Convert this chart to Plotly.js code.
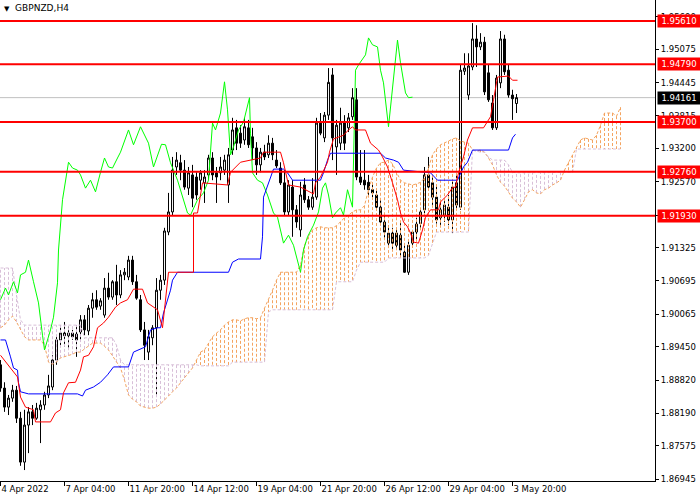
<!DOCTYPE html>
<html>
<head>
<meta charset="utf-8">
<script src="https://cdn.plot.ly/plotly-3.0.1.min.js"></script>
<style>
  html, body { margin: 0; padding: 0; background: #fff; }
  #chart { width: 700px; height: 500px; }
</style>
</head>
<body>
<div id="chart"></div>
<script>
// GBPNZD H4 with Ichimoku, MT4 style. Bars are indexed 0..129, cloud runs 26 bars ahead.

const FONT = 'DejaVu Sans';

// candles, one value per bar
const opens = [
  1.8911,1.8867,1.8831,1.8848,1.8863,1.8810,1.8727,1.8797,1.8822,1.8810,
  1.8826,1.8835,1.8854,1.8869,1.8920,1.8958,1.8971,1.8966,1.8971,1.8969,
  1.8973,1.8996,1.8975,1.9018,1.9034,1.9022,1.9005,1.9056,1.9039,1.9068,
  1.9043,1.9081,1.9077,1.9109,1.9068,1.9034,1.8977,1.8935,1.8962,1.8981,
  1.9052,1.9071,1.9162,1.9200,1.9285,1.9293,1.9279,1.9245,1.9270,1.9266,
  1.9260,1.9255,1.9270,1.9302,1.9274,1.9274,1.9279,1.9251,1.9317,1.9359,
  1.9349,1.9336,1.9359,1.9342,1.9321,1.9289,1.9313,1.9308,1.9330,1.9298,
  1.9283,1.9255,1.9200,1.9247,1.9204,1.9166,1.9251,1.9223,1.9209,1.9228,
  1.9368,1.9340,1.9383,1.9459,1.9323,1.9330,1.9371,1.9359,1.9380,1.9412,
  1.9266,1.9260,1.9256,1.9242,1.9232,1.9209,1.9181,1.9141,1.9160,1.9160,
  1.9156,1.9124,1.9086,1.9141,1.9162,1.9178,1.9204,1.9270,1.9255,1.9228,
  1.9189,1.9194,1.9209,1.9185,1.9255,1.9209,1.9466,1.9421,1.9474,1.9527,
  1.9512,1.9521,1.9463,1.9406,1.9359,1.9444,1.9527,1.9468,1.9421,1.9405
];
const highs = [
  1.8920,1.8878,1.8854,1.8873,1.8871,1.8822,1.8826,1.8831,1.8835,1.8839,
  1.8844,1.8860,1.8892,1.8929,1.8967,1.8986,1.8992,1.8983,1.8977,1.8986,
  1.9005,1.9005,1.9024,1.9047,1.9052,1.9037,1.9075,1.9085,1.9071,1.9100,
  1.9090,1.9094,1.9117,1.9117,1.9081,1.9043,1.8992,1.8977,1.8986,1.9075,
  1.9081,1.9170,1.9236,1.9304,1.9313,1.9308,1.9298,1.9285,1.9289,1.9275,
  1.9279,1.9279,1.9308,1.9313,1.9285,1.9304,1.9308,1.9321,1.9378,1.9374,
  1.9364,1.9378,1.9374,1.9359,1.9332,1.9321,1.9327,1.9345,1.9340,1.9317,
  1.9294,1.9279,1.9260,1.9260,1.9213,1.9257,1.9264,1.9230,1.9264,1.9378,
  1.9387,1.9389,1.9472,1.9472,1.9374,1.9397,1.9383,1.9387,1.9434,1.9434,
  1.9317,1.9317,1.9270,1.9255,1.9242,1.9223,1.9194,1.9175,1.9170,1.9170,
  1.9179,1.9137,1.9147,1.9166,1.9189,1.9207,1.9285,1.9304,1.9270,1.9251,
  1.9223,1.9223,1.9232,1.9260,1.9270,1.9478,1.9500,1.9500,1.9557,1.9553,
  1.9538,1.9531,1.9478,1.9421,1.9459,1.9542,1.9535,1.9478,1.9431,1.9423
];
const lows = [
  1.8860,1.8822,1.8816,1.8841,1.8801,1.8720,1.8712,1.8744,1.8797,1.8807,
  1.8763,1.8826,1.8848,1.8863,1.8911,1.8948,1.8945,1.8939,1.8958,1.8926,
  1.8958,1.8967,1.8967,1.9000,1.9015,1.9015,1.9000,1.9034,1.9034,1.9024,
  1.9037,1.9071,1.9071,1.9062,1.9034,1.8973,1.8920,1.8920,1.8948,1.8850,
  1.9034,1.9062,1.9156,1.9194,1.9270,1.9260,1.9242,1.9232,1.9209,1.9223,
  1.9242,1.9217,1.9260,1.9260,1.9217,1.9260,1.9270,1.9217,1.9308,1.9317,
  1.9321,1.9327,1.9321,1.9298,1.9270,1.9275,1.9298,1.9302,1.9298,1.9283,
  1.9251,1.9194,1.9194,1.9153,1.9170,1.9153,1.9217,1.9204,1.9204,1.9223,
  1.9345,1.9332,1.9374,1.9298,1.9270,1.9317,1.9317,1.9351,1.9374,1.9260,
  1.9251,1.9242,1.9232,1.9226,1.9204,1.9175,1.9147,1.9132,1.9128,1.9132,
  1.9117,1.9085,1.9081,1.9132,1.9147,1.9166,1.9198,1.9242,1.9213,1.9178,
  1.9175,1.9181,1.9175,1.9160,1.9204,1.9204,1.9459,1.9412,1.9468,1.9474,
  1.9506,1.9421,1.9408,1.9355,1.9355,1.9434,1.9459,1.9416,1.9374,1.9387
];
const closes = [
  1.8867,1.8831,1.8848,1.8863,1.8810,1.8727,1.8797,1.8822,1.8810,1.8829,
  1.8835,1.8854,1.8871,1.8920,1.8958,1.8971,1.8966,1.8971,1.8964,1.8958,
  1.8996,1.8977,1.9018,1.9034,1.9020,1.9032,1.9056,1.9039,1.9068,1.9043,
  1.9081,1.9086,1.9109,1.9068,1.9037,1.8977,1.8948,1.8964,1.8981,1.9052,
  1.9071,1.9164,1.9200,1.9279,1.9298,1.9279,1.9247,1.9274,1.9226,1.9232,
  1.9274,1.9266,1.9302,1.9270,1.9266,1.9285,1.9298,1.9308,1.9355,1.9330,
  1.9330,1.9361,1.9327,1.9321,1.9289,1.9313,1.9304,1.9330,1.9308,1.9287,
  1.9255,1.9200,1.9251,1.9204,1.9181,1.9232,1.9223,1.9209,1.9228,1.9368,
  1.9349,1.9383,1.9445,1.9340,1.9364,1.9368,1.9330,1.9378,1.9416,1.9266,
  1.9256,1.9251,1.9242,1.9236,1.9209,1.9181,1.9162,1.9160,1.9141,1.9137,
  1.9128,1.9086,1.9137,1.9162,1.9177,1.9200,1.9270,1.9247,1.9228,1.9185,
  1.9204,1.9213,1.9185,1.9247,1.9213,1.9468,1.9472,1.9476,1.9527,1.9512,
  1.9521,1.9427,1.9412,1.9359,1.9453,1.9527,1.9465,1.9421,1.9414,1.94161
];

// Senkou spans, bars 0..155
const spanA = [
  1.8981,1.8986,1.8996,1.9003,1.8992,1.8977,1.8964,1.8958,1.8958,1.8958,
  1.8958,1.8948,1.8916,1.8912,1.8916,1.8924,1.8926,1.8929,1.8931,1.8935,
  1.8935,1.8941,1.8946,1.8952,1.8952,1.8952,1.8946,1.8939,1.8928,1.8916,
  1.8905,1.8882,1.8854,1.8846,1.8841,1.8833,1.8831,1.8829,1.8829,1.8831,
  1.8837,1.8844,1.8852,1.8860,1.8867,1.8877,1.8886,1.8895,1.8905,1.8920,
  1.8935,1.8939,1.8952,1.8964,1.8971,1.8977,1.8986,1.8992,1.8996,1.8996,
  1.8994,1.8998,1.9000,1.9000,1.8998,1.9000,1.9018,1.9034,1.9052,1.9071,
  1.9086,1.9086,1.9086,1.9086,1.9086,1.9100,1.9137,1.9154,1.9166,1.9170,
  1.9172,1.9170,1.9170,1.9170,1.9174,1.9181,1.9189,1.9194,1.9200,1.9204,
  1.9204,1.9212,1.9242,1.9266,1.9283,1.9293,1.9294,1.9298,1.9291,1.9275,
  1.9260,1.9255,1.9253,1.9251,1.9253,1.9256,1.9264,1.9283,1.9308,1.9319,
  1.9327,1.9330,1.9334,1.9338,1.9340,1.9334,1.9332,1.9330,1.9317,1.9315,
  1.9317,1.9313,1.9302,1.9289,1.9270,1.9256,1.9249,1.9238,1.9226,1.9219,
  1.9209,1.9223,1.9238,1.9242,1.9236,1.9234,1.9242,1.9245,1.9251,1.9255,
  1.9260,1.9279,1.9294,1.9308,1.9321,1.9336,1.9340,1.9338,1.9336,1.9345,
  1.9364,1.9387,1.9387,1.9387,1.9381,1.9398
];
const spanB = [
  1.9094,1.9094,1.9094,1.9094,1.9043,1.8996,1.8986,1.8986,1.8986,1.8986,
  1.8986,1.8986,1.8986,1.8986,1.8986,1.8986,1.8986,1.8986,1.8986,1.8986,
  1.8986,1.8962,1.8962,1.8962,1.8962,1.8962,1.8962,1.8962,1.8962,1.8948,
  1.8920,1.8911,1.8911,1.8911,1.8911,1.8911,1.8911,1.8911,1.8911,1.8911,
  1.8911,1.8911,1.8911,1.8911,1.8911,1.8911,1.8911,1.8911,1.8911,1.8911,
  1.8909,1.8909,1.8909,1.8909,1.8909,1.8909,1.8909,1.8909,1.8916,1.8916,
  1.8916,1.8916,1.8916,1.8916,1.8916,1.8916,1.8916,1.9011,1.9015,1.9015,
  1.9015,1.9015,1.9015,1.9015,1.9015,1.9015,1.9015,1.9015,1.9015,1.9015,
  1.9015,1.9015,1.9015,1.9015,1.9068,1.9068,1.9068,1.9068,1.9068,1.9090,
  1.9105,1.9105,1.9105,1.9105,1.9105,1.9105,1.9105,1.9113,1.9113,1.9113,
  1.9113,1.9113,1.9113,1.9113,1.9113,1.9113,1.9113,1.9118,1.9141,1.9162,
  1.9162,1.9162,1.9162,1.9162,1.9162,1.9162,1.9162,1.9162,1.9317,1.9315,
  1.9313,1.9313,1.9304,1.9298,1.9298,1.9298,1.9298,1.9289,1.9275,1.9274,
  1.9274,1.9274,1.9274,1.9274,1.9274,1.9274,1.9274,1.9274,1.9274,1.9274,
  1.9274,1.9275,1.9275,1.9275,1.9319,1.9319,1.9319,1.9319,1.9319,1.9319,
  1.9319,1.9319,1.9319,1.9319,1.9319,1.9319
];

// Tenkan (red), Kijun (blue), Chikou (green): vertices as (bar, price)
const tenkanBar = [0,3.25,4.25,5,6.25,8.25,8.75,12.5,13.75,15,15.75,17,18.75,20,20.75,22,23.25,24.25,25.75,27,
  28.75,30,31.75,33.25,35.5,36.75,38.25,39.25,40.5,41.25,42,48.25,48.25,49.25,50.5,56.75,57.5,60,62.5,65,
  65.75,70,70.75,72,75,77.5,78.25,78.75,80,81.75,82.25,83.25,85.75,87,88,88.75,91.25,92.5,94.5,95.5,
  96.75,98,99.25,100,100.75,101.75,102.5,103.25,104.5,105.5,106.25,107.5,109.5,110,111.75,113,113.75,114.5,115.75,116.75,
  118,120.75,122.5,123.25,124.25,127,128,129.25];
const tenkanPrice = [1.8929,1.8897,1.8888,1.8850,1.8831,1.8826,1.8803,1.8803,1.8820,1.8826,1.8858,1.8877,1.8878,1.8901,1.8926,1.8929,1.8945,1.8981,1.8990,1.9001,
  1.9020,1.9028,1.9034,1.9054,1.9054,1.9028,1.9020,1.9015,1.8981,1.9034,1.9086,1.9086,1.9198,1.9198,1.9255,1.9251,1.9275,1.9294,1.9298,1.9302,
  1.9313,1.9313,1.9293,1.9251,1.9247,1.9236,1.9234,1.9255,1.9266,1.9294,1.9313,1.9338,1.9345,1.9355,1.9361,1.9355,1.9355,1.9330,1.9317,1.9304,
  1.9285,1.9255,1.9223,1.9198,1.9181,1.9172,1.9160,1.9143,1.9141,1.9166,1.9190,1.9204,1.9204,1.9219,1.9232,1.9246,1.9247,1.9274,1.9304,1.9336,
  1.9359,1.9359,1.9380,1.9412,1.9455,1.9457,1.9449,1.9449];

const kijunBar = [0,1.25,2.5,3.25,4.25,4.5,5,7,19.25,20.5,21.25,23.25,25,26.75,28.25,32,33.25,34.5,36.25,37.5,
  39.25,40,40.75,42.5,43,44.25,57,58,59.5,65,65.5,65.75,67.5,68.25,70.75,71.75,73,80,80.75,81.75,
  82.5,95,96.25,98.25,99.5,100.75,107.5,109.25,114.25,115,115.75,116.75,118,127,128,128.75];
const kijunPrice = [1.8958,1.8958,1.8926,1.8905,1.8901,1.8877,1.8860,1.8856,1.8856,1.8852,1.8863,1.8869,1.8878,1.8892,1.8907,1.8907,1.8935,1.8939,1.8945,1.8977,
  1.8981,1.8981,1.9009,1.9052,1.9071,1.9086,1.9086,1.9105,1.9111,1.9111,1.9153,1.9228,1.9266,1.9281,1.9281,1.9274,1.9260,1.9260,1.9274,1.9298,
  1.9311,1.9311,1.9302,1.9298,1.9294,1.9279,1.9274,1.9260,1.9260,1.9274,1.9285,1.9294,1.9317,1.9317,1.9340,1.9347];

const chikouBar = [0,1.25,2,3.25,4.25,5,6.25,7,8.25,9.5,10.5,11,12.5,13.25,14.25,14.5,15.5,17,18,19.25,
  20,21.25,22.5,23.75,25,26,27,28,29.25,30,32,33.25,35,37,38.25,40.25,41.25,42.5,44.25,45.5,
  46.75,47.5,49.25,50.75,52,53,53.75,55,56,56.75,57.5,58.25,59.5,60.75,61.75,62.25,62.5,63,64.25,65.5,
  66.75,68.25,69.25,70.75,72,73.25,75,75.75,76.75,78.25,79.5,80.5,81.25,82,83,83.75,85,85.75,86.75,88,
  88.75,89.5,91.25,92,93,94.25,95,95.75,97,98.25,99.25,100,101.25,102,103];
const chikouPrice = [1.9034,1.9056,1.9043,1.9068,1.9047,1.9081,1.9086,1.9109,1.9068,1.9028,1.8967,1.8939,1.8977,1.9001,1.9066,1.9128,1.9223,1.9294,1.9283,1.9279,
  1.9270,1.9245,1.9260,1.9238,1.9275,1.9302,1.9285,1.9283,1.9302,1.9313,1.9355,1.9327,1.9361,1.9330,1.9285,1.9328,1.9327,1.9293,1.9260,1.9228,
  1.9198,1.9194,1.9223,1.9236,1.9260,1.9368,1.9355,1.9387,1.9446,1.9393,1.9308,1.9323,1.9355,1.9370,1.9402,1.9416,1.9349,1.9274,1.9260,1.9255,
  1.9232,1.9198,1.9190,1.9141,1.9156,1.9137,1.9086,1.9128,1.9153,1.9175,1.9200,1.9245,1.9255,1.9232,1.9189,1.9198,1.9208,1.9194,1.9242,1.9209,
  1.9468,1.9478,1.9497,1.9529,1.9516,1.9512,1.9468,1.9444,1.9361,1.9449,1.9525,1.9482,1.9425,1.9416,1.9417];

// horizontal levels, last price
const levels = [1.95610, 1.94790, 1.93700, 1.92760, 1.91930];
const lastPrice = 1.94161;

// axis ticks
const priceTicks = [1.95690, 1.95075, 1.94445, 1.93815, 1.93200, 1.92570, 1.91940, 1.91325,
  1.90695, 1.90065, 1.89450, 1.88820, 1.88190, 1.87575, 1.86945];
const timeTickBars = [0, 16, 32, 48, 64, 80, 96, 112, 128];
const timeTickText = ['4 Apr 2022', '7 Apr 04:00', '11 Apr 20:00', '14 Apr 12:00', '19 Apr 04:00',
  '21 Apr 20:00', '26 Apr 12:00', '29 Apr 04:00', '3 May 20:00'];

const SANDY = '#f4a460';
const THISTLE = '#d8bfd8';

const bars = closes.map((_, i) => i);
const spanBars = spanA.map((_, i) => i);

// one dotted vertical stroke per bar between the spans, colour by which span is on top
function cloudStrokes(bullish) {
  const x = [], y = [];
  spanA.forEach((a, i) => {
    const b = spanB[i];
    if ((a >= b) !== bullish) return;
    x.push(i, i, null);
    y.push(a, b, null);
  });
  return x.length ? { x, y } : { x: [null], y: [null] };
}

function lineTrace(x, y, color, dash) {
  return {
    x, y, type: 'scatter', mode: 'lines', hoverinfo: 'skip', showlegend: false,
    line: { color, width: 1, dash: dash || 'solid' },
  };
}

const up = cloudStrokes(true);
const down = cloudStrokes(false);

const traces = [
  {
    type: 'candlestick', x: bars, open: opens, high: highs, low: lows, close: closes,
    hoverinfo: 'skip', showlegend: false, whiskerwidth: 0,
    increasing: { line: { color: '#000000', width: 1 }, fillcolor: '#ffffff' },
    decreasing: { line: { color: '#000000', width: 1 }, fillcolor: '#000000' },
  },
  lineTrace(up.x, up.y, SANDY, '3px,2px'),
  lineTrace(down.x, down.y, THISTLE, '3px,2px'),
  lineTrace(spanBars, spanA, SANDY, '3px,2px'),
  lineTrace(spanBars, spanB, THISTLE, '3px,2px'),
  lineTrace(chikouBar, chikouPrice, '#00ff00'),
  lineTrace(kijunBar, kijunPrice, '#0000ff'),
  lineTrace(tenkanBar, tenkanPrice, '#ff0000'),
];

// price tag on the right scale
function priceTag(value, bg) {
  return {
    xref: 'paper', x: 1, xanchor: 'left', xshift: 2,
    yref: 'y', y: value, yanchor: 'middle',
    text: value.toFixed(5), showarrow: false,
    bgcolor: bg, borderpad: 1, width: 40, height: 10, align: 'center',
    font: { family: FONT, size: 8.5, color: '#ffffff' },
  };
}

const shapes = [
  {
    type: 'line', xref: 'paper', x0: 0, x1: 1, yref: 'y', y0: lastPrice, y1: lastPrice,
    line: { color: '#c0c0c0', width: 1 }, layer: 'below',
  },
  ...levels.map(v => ({
    type: 'line', xref: 'paper', x0: 0, x1: 1, yref: 'y', y0: v, y1: v,
    line: { color: '#ff0000', width: 2 }, layer: 'above',
  })),
];

const annotations = [
  {
    xref: 'paper', yref: 'paper', x: 0, y: 1, xanchor: 'left', yanchor: 'top',
    xshift: 2, yshift: -1, showarrow: false,
    text: '<span style="font-size:7px">▼</span>  GBPNZD,H4',
    font: { family: FONT, size: 9, color: '#000000' },
  },
  ...levels.map(v => priceTag(v, '#ff0000')),
  priceTag(lastPrice, '#000000'),
];

const layout = {
  width: 700, height: 500,
  margin: { l: 0, r: 45, t: 0, b: 19, pad: 0 },
  paper_bgcolor: '#ffffff', plot_bgcolor: '#ffffff',
  font: { family: FONT, size: 9, color: '#000000' },
  showlegend: false,
  xaxis: {
    range: [-0.125, 163.625], autorange: false, fixedrange: true,
    rangeslider: { visible: false },
    showgrid: false, zeroline: false,
    showline: true, linecolor: '#000000', linewidth: 1,
    ticks: 'outside', ticklen: 4, tickcolor: '#000000',
    tickvals: timeTickBars, ticktext: timeTickText,
    tickangle: 0,
    ticklabelposition: 'outside right',
    tickfont: { family: FONT, size: 8.5, color: '#000000' },
    automargin: false,
  },
  yaxis: {
    side: 'right', range: [1.86913, 1.96007], autorange: false, fixedrange: true,
    showgrid: false, zeroline: false,
    showline: true, linecolor: '#000000', linewidth: 1,
    ticks: 'outside', ticklen: 3, tickcolor: '#000000',
    tickvals: priceTicks, ticktext: priceTicks.map(v => v.toFixed(5)),
    tickfont: { family: FONT, size: 8.5, color: '#000000' },
    automargin: false,
  },
  shapes,
  annotations,
};

Plotly.newPlot('chart', traces, layout, { staticPlot: true, displayModeBar: false });
</script>
</body>
</html>
